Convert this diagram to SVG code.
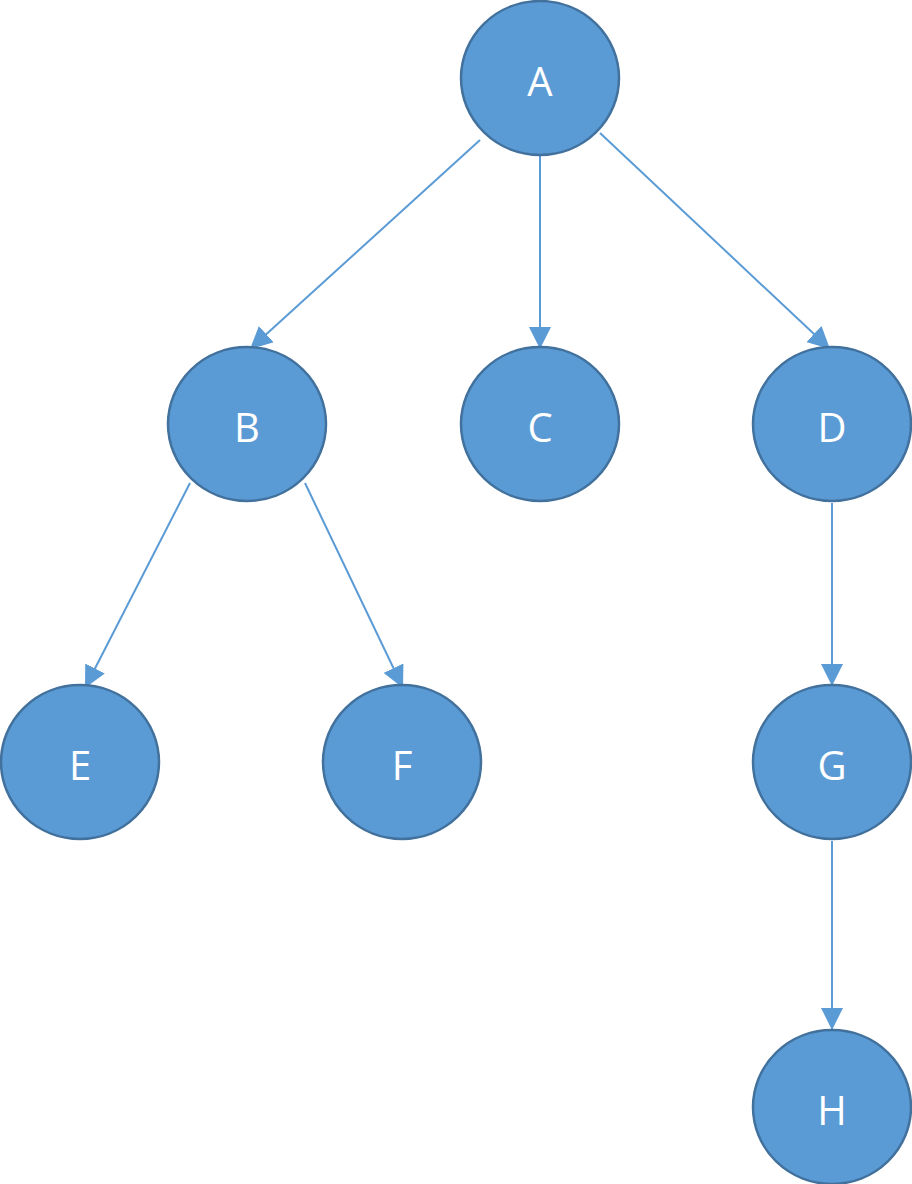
<svg xmlns="http://www.w3.org/2000/svg" width="912" height="1184" viewBox="0 0 912 1184">
<style>
.n{fill:#5b9bd5;stroke:#41719c;stroke-width:2.5}
.t{fill:#fff;font-family:"Open Sans","Liberation Sans",sans-serif;font-size:40px;text-anchor:middle;dominant-baseline:central}
.e{stroke:#5b9bd5;stroke-width:2;fill:none;marker-end:url(#ah)}
</style>
<defs><marker id="ah" markerWidth="10" markerHeight="10" refX="10" refY="5" orient="auto" markerUnits="userSpaceOnUse" viewBox="0 0 10 10"><path d="M0,0 L10,5 L0,10 Z" fill="#5b9bd5" transform="scale(1)"/></marker>
<marker id="ah2" markerWidth="22" markerHeight="22" refX="22" refY="11" orient="auto" markerUnits="userSpaceOnUse"><path d="M0,0 L22,11 L0,22 Z" fill="#5b9bd5"/></marker></defs>
<rect width="912" height="1184" fill="#fff"/>
<g id="connectors" style="--m:url(#ah2)">
<line class="e" style="marker-end:url(#ah2)" x1="480" y1="140" x2="250" y2="349"/>
<line class="e" style="marker-end:url(#ah2)" x1="540" y1="155" x2="540" y2="349"/>
<line class="e" style="marker-end:url(#ah2)" x1="600" y1="133" x2="830" y2="349"/>
<line class="e" style="marker-end:url(#ah2)" x1="190" y1="483" x2="85" y2="688"/>
<line class="e" style="marker-end:url(#ah2)" x1="305" y1="483" x2="403" y2="688"/>
<line class="e" style="marker-end:url(#ah2)" x1="832" y1="503" x2="832" y2="686"/>
<line class="e" style="marker-end:url(#ah2)" x1="832" y1="841" x2="832" y2="1030"/>
</g>
<g id="A"><ellipse class="n" cx="540" cy="78" rx="79" ry="77"/><text class="t" x="540" y="80">A</text></g>
<g id="B"><ellipse class="n" cx="247" cy="424" rx="79" ry="77"/><text class="t" x="247" y="426">B</text></g>
<g id="C"><ellipse class="n" cx="540" cy="424" rx="79" ry="77"/><text class="t" x="540" y="426">C</text></g>
<g id="D"><ellipse class="n" cx="832" cy="424" rx="79" ry="77"/><text class="t" x="832" y="426">D</text></g>
<g id="E"><ellipse class="n" cx="80" cy="762" rx="79" ry="77"/><text class="t" x="80" y="764">E</text></g>
<g id="F"><ellipse class="n" cx="402" cy="762" rx="79" ry="77"/><text class="t" x="402" y="764">F</text></g>
<g id="G"><ellipse class="n" cx="832" cy="762" rx="79" ry="77"/><text class="t" x="832" y="764">G</text></g>
<g id="H"><ellipse class="n" cx="832" cy="1107" rx="79" ry="77"/><text class="t" x="832" y="1109">H</text></g>
</svg>
